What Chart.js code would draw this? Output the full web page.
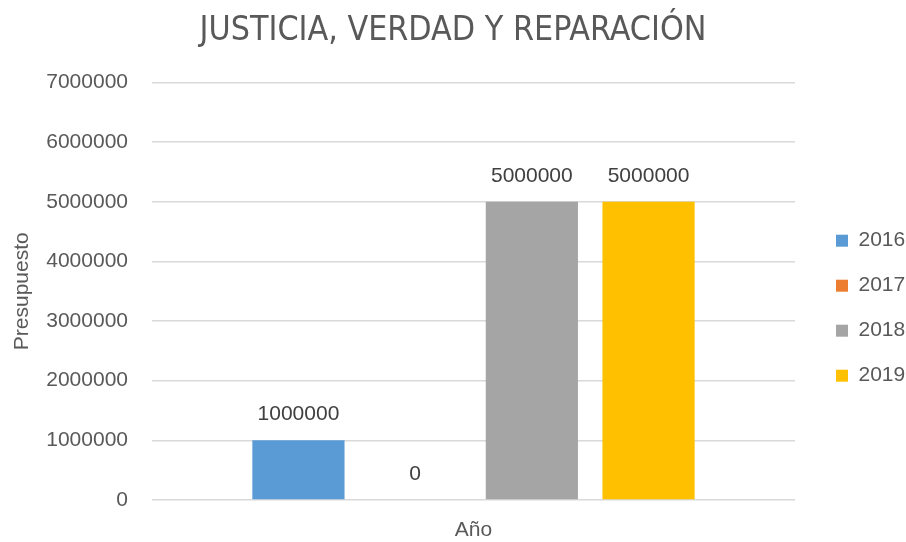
<!DOCTYPE html>
<html>
<head>
<meta charset="utf-8">
<script src="https://cdn.jsdelivr.net/npm/chart.js@4"></script>
<style>
  html, body { margin: 0; padding: 0; background: #fff; }
  #wrap { width: 906px; height: 542px; }
</style>
</head>
<body>
<div id="wrap"><canvas id="myChart" width="906" height="542"></canvas></div>
<script>
const categories = [''];
const seriesNames = ['2016', '2017', '2018', '2019'];
const seriesValues = [[1000000], [0], [5000000], [5000000]];
const seriesColors = ['#5B9BD5', '#ED7D31', '#A5A5A5', '#FFC000'];
const yTicks = [0, 1000000, 2000000, 3000000, 4000000, 5000000, 6000000, 7000000];

const textColor = '#595959';
const baseFont = { family: 'Liberation Sans, Arial, sans-serif', size: 21 };

// etiquetas encima de cada barra
const barLabels = {
    id: 'barLabels',
    afterDatasetsDraw(chart) {
        const c = chart.ctx;
        c.save();
        c.fillStyle = '#404040';
        c.font = '21px Liberation Sans, Arial, sans-serif';
        c.textAlign = 'center';
        c.textBaseline = 'middle';
        chart.data.datasets.forEach((ds, i) => {
            chart.getDatasetMeta(i).data.forEach((bar, j) => {
                c.fillText(String(ds.data[j]), bar.x, bar.y - 26);
            });
        });
        c.restore();
    }
};

const ctx = document.getElementById('myChart').getContext('2d');

const myChart = new Chart(ctx, {
    type: 'bar',
    data: {
        labels: categories,
        datasets: seriesNames.map((name, i) => ({
            label: name,
            data: seriesValues[i],
            backgroundColor: seriesColors[i],
            borderWidth: 0,
            categoryPercentage: 0.726,
            barPercentage: 0.79
        }))
    },
    plugins: [barLabels],
    options: {
        responsive: false,
        animation: false,
        layout: { padding: { top: 6, right: 0, left: 0, bottom: 0 } },
        plugins: {
            title: {
                display: true,
                text: 'JUSTICIA, VERDAD Y REPARACIÓN',
                color: textColor,
                font: { family: 'Liberation Sans Narrow, DejaVu Sans Condensed, sans-serif', size: 33.7, weight: 'normal' },
                padding: { top: 5, bottom: 31 }
            },
            legend: {
                position: 'right',
                maxWidth: 94,
                title: { display: true, text: '', font: { size: 2 }, padding: { top: 66, bottom: 0 } },
                labels: {
                    color: textColor,
                    font: baseFont,
                    boxWidth: 12,
                    boxHeight: 12,
                    padding: 24
                }
            },
            tooltip: { enabled: false }
        },
        scales: {
            x: {
                grid: { display: false },
                border: { display: false },
                ticks: { display: false },
                afterFit(scale) { scale.height = 42; },
                title: {
                    display: true,
                    text: 'Año',
                    color: textColor,
                    font: baseFont,
                    padding: { top: 0, bottom: -1 }
                }
            },
            y: {
                min: 0,
                max: 7000000,
                afterBuildTicks(axis) {
                    axis.ticks = yTicks.map(v => ({ value: v }));
                },
                afterFit(scale) { scale.width = 152; },
                grid: { color: '#D9D9D9', lineWidth: 1.5, tickLength: 0 },
                border: { display: false },
                ticks: {
                    color: textColor,
                    font: baseFont,
                    padding: 24,
                    callback: v => String(v)
                },
                title: {
                    display: true,
                    text: 'Presupuesto',
                    color: textColor,
                    font: baseFont,
                    padding: { top: 10, bottom: 0 }
                }
            },
            // hueco entre el área del gráfico y la leyenda
            gap: {
                type: 'linear',
                position: 'right',
                display: true,
                grid: { display: false },
                border: { display: false },
                ticks: { display: false },
                afterFit(scale) { scale.width = 17; }
            }
        }
    }
});
</script>
</body>
</html>
